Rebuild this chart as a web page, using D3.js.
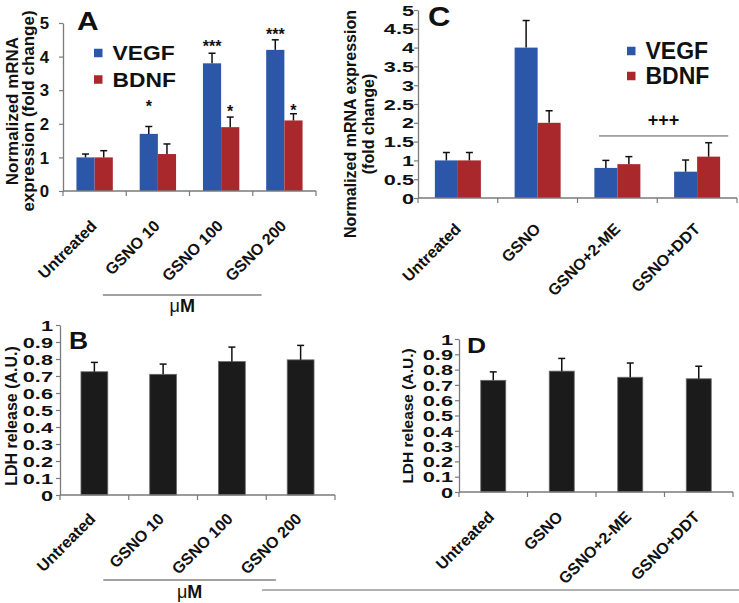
<!DOCTYPE html>
<html><head><meta charset="utf-8">
<script src="https://cdn.jsdelivr.net/npm/d3@7/dist/d3.min.js"></script>
<style>
html,body{margin:0;padding:0;background:#fff;}
svg{display:block;font-family:"Liberation Sans",Arial,sans-serif;}
</style></head>
<body>
<script>
// ---------- DATA ----------
const catsA = ["Untreated", "GSNO 10", "GSNO 100", "GSNO 200"];
const catsC = ["Untreated", "GSNO", "GSNO+2-ME", "GSNO+DDT"];
const seriesNames = ["VEGF", "BDNF"];

const vegfA = [1.0, 1.7, 3.8, 4.2];
const vegfAErr = [0.1, 0.22, 0.3, 0.3];
const bdnfA = [1.0, 1.1, 1.9, 2.1];
const bdnfAErr = [0.2, 0.3, 0.3, 0.2];

const vegfC = [1.0, 4.0, 0.8, 0.7];
const vegfCErr = [0.21, 0.72, 0.2, 0.31];
const bdnfC = [1.0, 2.0, 0.9, 1.1];
const bdnfCErr = [0.21, 0.32, 0.2, 0.37];

const ldhB = [0.725, 0.71, 0.785, 0.795];
const ldhBErr = [0.055, 0.06, 0.085, 0.085];
const ldhD = [0.73, 0.79, 0.75, 0.74];
const ldhDErr = [0.055, 0.083, 0.093, 0.082];

const yTicksA = [0, 1, 2, 3, 4, 5];
const yTicksC = [0, 0.5, 1, 1.5, 2, 2.5, 3, 3.5, 4, 4.5, 5];
const yTicksLDH = [0, 0.1, 0.2, 0.3, 0.4, 0.5, 0.6, 0.7, 0.8, 0.9, 1];

// significance marks in panel A (category, series, label, centre height in data units)
const starCat = ["GSNO 10", "GSNO 100", "GSNO 100", "GSNO 200", "GSNO 200"];
const starSeries = ["VEGF", "VEGF", "BDNF", "VEGF", "BDNF"];
const starLabel = ["*", "***", "*", "***", "*"];
const starY = [2.62, 4.4, 2.47, 4.76, 2.5];

const colors = {VEGF: "#2c56a8", BDNF: "#a8282c", LDH: "#1b1b1b"};

// ---------- DRAW ----------
const svg = d3.select("body").append("svg").attr("width", 739).attr("height", 603);

function drawPanel(p) {
  const g = svg.append("g");
  const x = d3.scaleBand().domain(p.cats).range([p.left, p.right]).padding(0);
  const y = d3.scaleLinear().domain([0, p.yMax]).range([p.bottom, p.top]);
  const step = x.step();
  const inner = d3.scaleBand().domain(p.series.map(s => s.name))
    .range([step * (1 - p.barRatio) / 2, step * (1 + p.barRatio) / 2]).padding(0);
  const bw = inner.bandwidth();

  // bars
  p.series.forEach(s => {
    const data = p.cats.map((c, i) => ({c, v: s.values[i], e: s.errs[i]}));
    g.selectAll(null).data(data).join("rect")
      .attr("x", d => x(d.c) + inner(s.name))
      .attr("y", d => y(d.v))
      .attr("width", bw)
      .attr("height", d => y(0) - y(d.v))
      .attr("fill", colors[s.name])
      .attr("stroke", s.name === "LDH" ? "#6a6a6a" : "none")
      .attr("stroke-width", 0.8);
    // error bars
    g.selectAll(null).data(data).join("line")
      .attr("x1", d => x(d.c) + inner(s.name) + bw / 2)
      .attr("x2", d => x(d.c) + inner(s.name) + bw / 2)
      .attr("y1", d => y(d.v))
      .attr("y2", d => y(d.v + d.e))
      .attr("stroke", "#111").attr("stroke-width", 1.5);
    g.selectAll(null).data(data).join("line")
      .attr("x1", d => x(d.c) + inner(s.name) + bw / 2 - 3.5)
      .attr("x2", d => x(d.c) + inner(s.name) + bw / 2 + 3.5)
      .attr("y1", d => y(d.v + d.e))
      .attr("y2", d => y(d.v + d.e))
      .attr("stroke", "#111").attr("stroke-width", 1.5);
  });

  // y axis
  const ya = g.append("g").attr("transform", `translate(${p.left},0)`)
    .call(d3.axisLeft(y).tickValues(p.yTicks).tickSize(4).tickSizeOuter(0)
      .tickFormat(d => d3.format("~g")(d)));
  ya.select(".domain").attr("stroke", "#7a7a7a").attr("stroke-width", 1.3);
  ya.selectAll(".tick line").attr("stroke", "#7a7a7a").attr("stroke-width", 1.2);
  ya.selectAll(".tick text")
    .attr("font-size", p.tickFs).attr("font-weight", "bold").attr("fill", "#111")
    .attr("font-family", "'Liberation Sans',Arial,sans-serif")
    .attr("x", -p.tickGap / p.tickSx).attr("dy", "0.36em")
    .attr("transform", `scale(${p.tickSx},1)`);

  // x axis line + boundary ticks
  g.append("line").attr("x1", p.left).attr("x2", p.right)
    .attr("y1", y(0)).attr("y2", y(0)).attr("stroke", "#7a7a7a").attr("stroke-width", 1.3);
  const bounds = p.cats.map(c => x(c)).concat([p.right]);
  g.selectAll(null).data(bounds).join("line")
    .attr("x1", d => d).attr("x2", d => d)
    .attr("y1", y(0)).attr("y2", y(0) + 5)
    .attr("stroke", "#7a7a7a").attr("stroke-width", 1.2);

  // x labels, rotated
  g.selectAll(null).data(p.cats).join("text")
    .attr("transform", c => `translate(${x(c) + step / 2 + p.lblDx},${y(0) + p.lblDy}) rotate(-45)`)
    .attr("text-anchor", "end")
    .attr("font-size", 16).attr("font-weight", "bold").attr("fill", "#111")
    .text(c => c);

  // y title
  const t = g.append("text")
    .attr("transform", `translate(${p.titleX},${p.titleY}) rotate(-90)`)
    .attr("text-anchor", "middle").attr("font-size", p.titleFs)
    .attr("font-weight", "bold").attr("fill", "#111");
  p.title.forEach((line, i) => {
    t.append("tspan").attr("x", 0).attr("dy", i === 0 ? 0 : p.titleLh).text(line);
  });

  // panel letter
  g.append("text").attr("transform", `translate(${p.letterX},${p.letterY}) scale(${p.letterSx},1)`)
    .attr("font-size", p.letterFs).attr("font-weight", "bold").attr("fill", "#111")
    .text(p.letter);

  return {g, x, y, inner, bw, step};
}

// ---------- Panel A ----------
const A = drawPanel({
  cats: catsA, left: 63, right: 316, top: 23, bottom: 191, yMax: 5,
  yTicks: yTicksA, tickFs: 16, tickSx: 1.05, tickGap: 14,
  series: [{name: "VEGF", values: vegfA, errs: vegfAErr}, {name: "BDNF", values: bdnfA, errs: bdnfAErr}],
  barRatio: 0.575, lblDx: 3, lblDy: 36,
  title: ["Normalized mRNA", "expression (fold change)"], titleX: 18, titleY: 111, titleFs: 17, titleLh: 15.5,
  letter: "A", letterX: 77, letterY: 30, letterFs: 26, letterSx: 1.15
});
// stars
starCat.forEach((c, i) => {
  A.g.append("text")
    .attr("x", A.x(c) + A.inner(starSeries[i]) + A.bw / 2)
    .attr("y", A.y(starY[i]) + 9)
    .attr("text-anchor", "middle").attr("font-size", 16).attr("font-weight", "bold").attr("fill", "#111")
    .text(starLabel[i]);
});

// ---------- Panel C ----------
const C = drawPanel({
  cats: catsC, left: 418, right: 737, top: 10, bottom: 198, yMax: 5,
  yTicks: yTicksC, tickFs: 14, tickSx: 1.55, tickGap: 4,
  series: [{name: "VEGF", values: vegfC, errs: vegfCErr}, {name: "BDNF", values: bdnfC, errs: bdnfCErr}],
  barRatio: 0.577, lblDx: 4, lblDy: 32,
  title: ["Normalized mRNA expression", "(fold change)"], titleX: 356, titleY: 124, titleFs: 16, titleLh: 18,
  letter: "C", letterX: 428, letterY: 26, letterFs: 27, letterSx: 1.15
});
// +++ bracket
C.g.append("line")
  .attr("x1", C.x("GSNO+2-ME") + C.step * 0.27).attr("x2", C.x("GSNO+DDT") + C.step * 0.89)
  .attr("y1", C.y(1.65)).attr("y2", C.y(1.65)).attr("stroke", "#555").attr("stroke-width", 1);
C.g.append("text")
  .attr("x", (C.x("GSNO+2-ME") + C.step * 0.27 + C.x("GSNO+DDT") + C.step * 0.89) / 2)
  .attr("y", C.y(2.07) + 6).attr("text-anchor", "middle")
  .attr("font-size", 18).attr("font-weight", "bold").attr("fill", "#111").text("+++");

// ---------- Panel B ----------
const B = drawPanel({
  cats: catsA, left: 60, right: 335, top: 325, bottom: 495, yMax: 1,
  yTicks: yTicksLDH, tickFs: 15, tickSx: 1.45, tickGap: 7,
  series: [{name: "LDH", values: ldhB, errs: ldhBErr}],
  barRatio: 0.39, lblDx: 2, lblDy: 25,
  title: ["LDH release (A.U.)"], titleX: 17, titleY: 416, titleFs: 16, titleLh: 0,
  letter: "B", letterX: 69, letterY: 349, letterFs: 23, letterSx: 1.15
});

// ---------- Panel D ----------
const D = drawPanel({
  cats: catsC, left: 459, right: 733, top: 339, bottom: 492, yMax: 1,
  yTicks: yTicksLDH, tickFs: 14.5, tickSx: 1.5, tickGap: 6,
  series: [{name: "LDH", values: ldhD, errs: ldhDErr}],
  barRatio: 0.365, lblDx: 2, lblDy: 26,
  title: ["LDH release (A.U.)"], titleX: 413, titleY: 416, titleFs: 15.5, titleLh: 0,
  letter: "D", letterX: 467, letterY: 353, letterFs: 22, letterSx: 1.2
});

// ---------- Legends ----------
function legend(x0, yc, gap, fs, sq, sx) {
  seriesNames.forEach((s, i) => {
    svg.append("rect").attr("x", x0).attr("y", yc + i * gap - sq / 2)
      .attr("width", sq).attr("height", sq).attr("fill", colors[s]);
    svg.append("text")
      .attr("transform", `translate(${x0 + sq + 10},${yc + i * gap}) scale(${sx},1)`)
      .attr("dy", "0.36em").attr("font-size", fs).attr("font-weight", "bold").attr("fill", "#111")
      .text(s);
  });
}
legend(94, 53, 26.5, 20, 8.5, 1.14);
legend(627, 51, 25, 23, 8.5, 1.0);

// ---------- μM brackets ----------
function umBracket(P, lineY, textY) {
  const x1 = P.x("GSNO 10") - P.step * 0.37;
  const x2 = P.x("GSNO 200") + P.step * 0.14;
  svg.append("line").attr("x1", x1).attr("x2", x2).attr("y1", lineY).attr("y2", lineY)
    .attr("stroke", "#444").attr("stroke-width", 1.1);
  const t = svg.append("text").attr("x", (x1 + x2) / 2).attr("y", textY)
    .attr("text-anchor", "middle").attr("font-size", 18).attr("fill", "#111");
  t.append("tspan").text("\u03bc");
  t.append("tspan").attr("font-weight", "bold").text("M");
}
umBracket(A, 295, 312);
umBracket(B, 580, 598);

// bottom rule
svg.append("line").attr("x1", 262).attr("x2", 739).attr("y1", 590).attr("y2", 590)
  .attr("stroke", "#666").attr("stroke-width", 1.2);
</script>
</body></html>
